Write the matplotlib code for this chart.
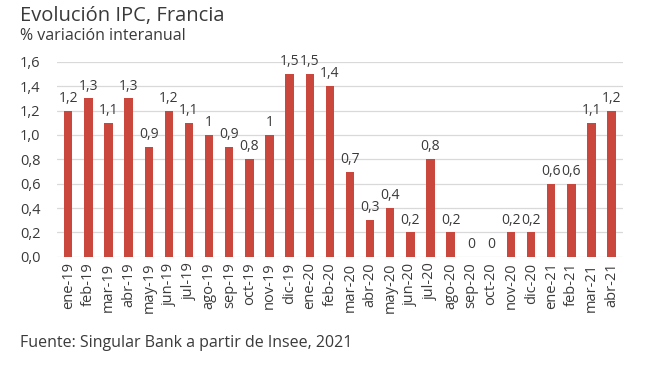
import numpy as np
import matplotlib.pyplot as plt

plt.rcParams['font.family'] = ['Open Sans', 'DejaVu Sans']

meses = ["ene-19", "feb-19", "mar-19", "abr-19", "may-19", "jun-19", "jul-19",
         "ago-19", "sep-19", "oct-19", "nov-19", "dic-19", "ene-20", "feb-20",
         "mar-20", "abr-20", "may-20", "jun-20", "jul-20", "ago-20", "sep-20",
         "oct-20", "nov-20", "dic-20", "ene-21", "feb-21", "mar-21", "abr-21"]
ipc = [1.2, 1.3, 1.1, 1.3, 0.9, 1.2, 1.1, 1.0, 0.9, 0.8, 1.0, 1.5, 1.5, 1.4,
       0.7, 0.3, 0.4, 0.2, 0.8, 0.2, 0.0, 0.0, 0.2, 0.2, 0.6, 0.6, 1.1, 1.2]
yticks = [0.0, 0.2, 0.4, 0.6, 0.8, 1.0, 1.2, 1.4, 1.6]

txt = "#3a3a3a"
rojo = "#c9473d"

fig = plt.figure(figsize=(6.5, 3.68), dpi=100)
ax = fig.add_axes([0.088, 0.302, 0.870, 0.530])

x = np.arange(len(meses))
ax.bar(x, ipc, width=0.42, color=rojo, zorder=3)

# etiquetas de valor (formato con coma)
for xi, v in zip(x, ipc):
    s = "0" if v == 0 else ("%g" % v).replace(".", ",")
    ax.text(xi, v + 0.04, s, ha="center", va="bottom", fontsize=10, color=txt)

ax.set_xlim(-0.55, len(meses) - 0.45)
ax.set_ylim(0, 1.6)
ax.set_yticks(yticks)
ax.set_yticklabels([("%.1f" % t).replace(".", ",") for t in yticks])
ax.set_xticks(x)
ax.set_xticklabels(meses, rotation=90)
ax.tick_params(axis="both", length=0, labelsize=10.5, colors=txt)
ax.tick_params(axis="y", pad=12)
ax.tick_params(axis="x", pad=4)
ax.grid(axis="y", color="#d9d9d9", linewidth=0.9, zorder=0)
for sp in ax.spines.values():
    sp.set_visible(False)

fig.text(0.03, 0.957, "Evolución IPC, Francia", fontsize=14.5, color=txt, va="center")
fig.text(0.03, 0.902, "% variación interanual", fontsize=11.5, color=txt, va="center")
fig.text(0.03, 0.068, "Fuente: Singular Bank a partir de Insee, 2021", fontsize=11.5,
         color=txt, va="center")

fig.savefig("out.png", dpi=100)
